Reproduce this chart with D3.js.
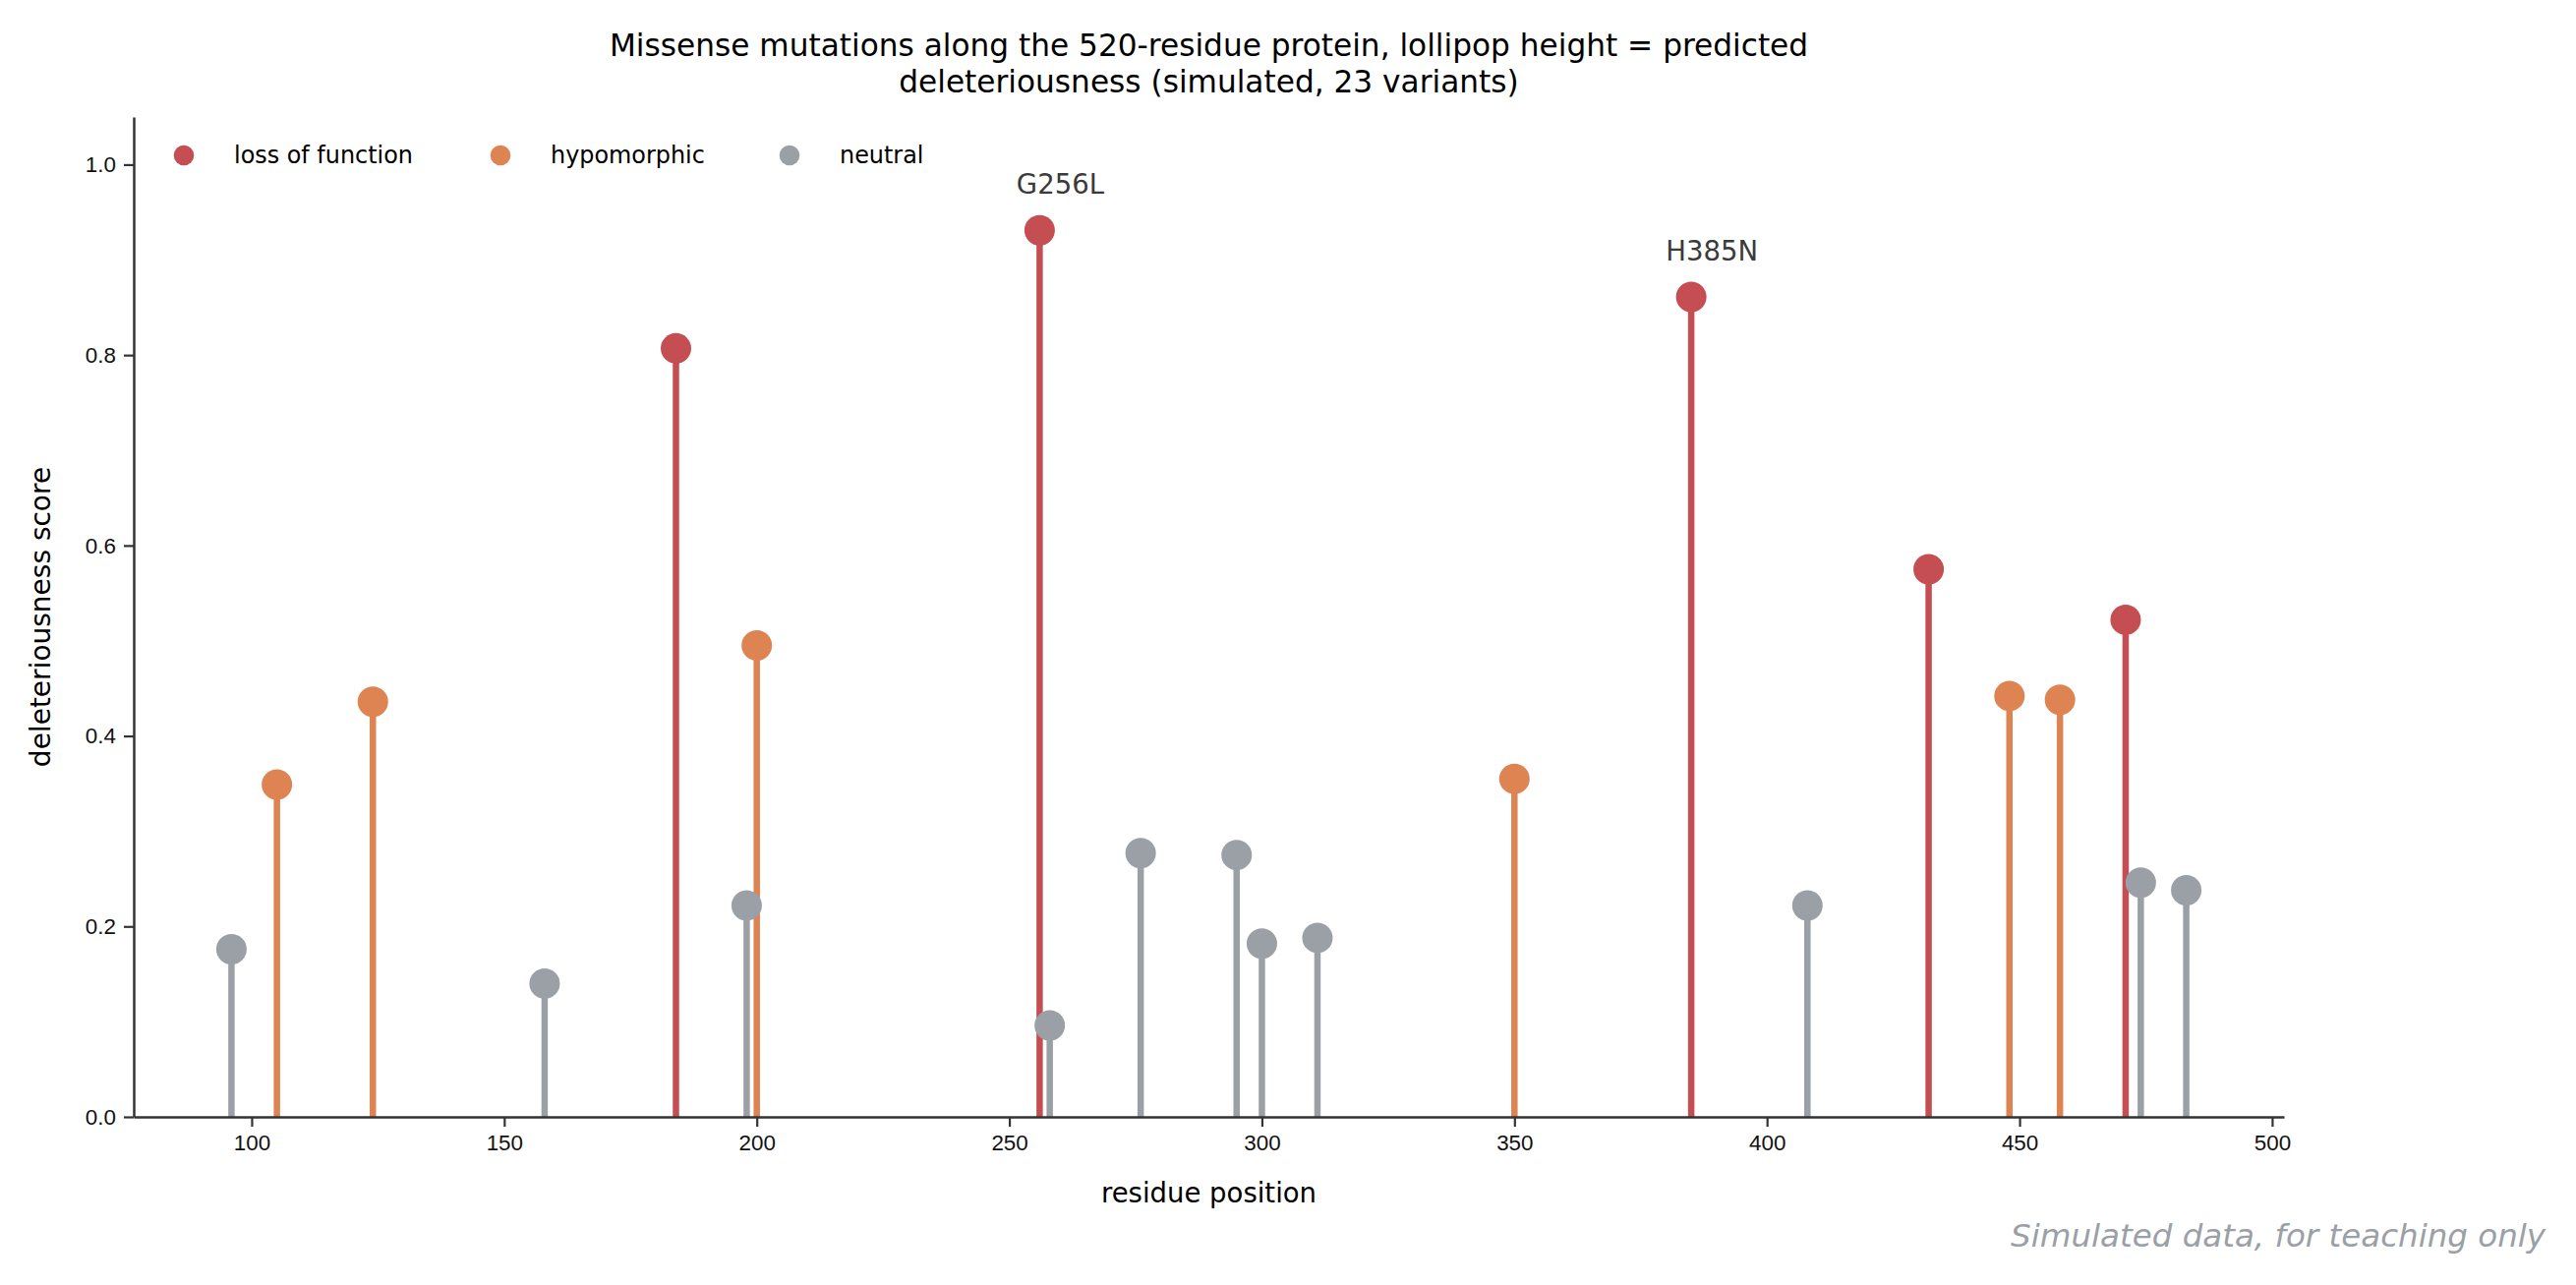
<!DOCTYPE html>
<html>
<head>
<meta charset="utf-8">
<script src="https://cdn.jsdelivr.net/npm/d3@7"></script>
<style>
	body { margin: 0; background: #fff; }
	svg { display: block; font-family: "DejaVu Sans", sans-serif; }
	.axis path, .axis line { stroke: #333; }
	.axis text { fill: #111; font-size: 22.4px; }
</style>
</head>
<body>
<svg id="chart"></svg>
<script>

// residue position of every visible variant
var positions = [96, 105, 124, 158, 184, 198, 200, 256, 258, 276, 295, 300, 311, 350, 385, 408, 432, 448, 458, 471, 474, 483];
// predicted deleteriousness score
var scores = [0.176, 0.349, 0.436, 0.140, 0.807, 0.222, 0.495, 0.931, 0.096, 0.277, 0.275, 0.182, 0.188, 0.355, 0.861, 0.222, 0.575, 0.442, 0.438, 0.522, 0.246, 0.238];
// impact class per variant
var impacts = ['neutral', 'hypomorphic', 'hypomorphic', 'neutral', 'loss of function', 'neutral', 'hypomorphic', 'loss of function', 'neutral', 'neutral', 'neutral', 'neutral', 'neutral', 'hypomorphic', 'loss of function', 'neutral', 'loss of function', 'hypomorphic', 'hypomorphic', 'loss of function', 'neutral', 'neutral'];

var classNames = ['loss of function', 'hypomorphic', 'neutral'];
var classColors = ['#c44e52', '#dd8452', '#9aa0a6'];

// annotated variants
var labelPositions = [256, 385];
var labelTexts = ['G256L', 'H385N'];

var xTicks = [100, 150, 200, 250, 300, 350, 400, 450, 500];
var yTicks = [0, 0.2, 0.4, 0.6, 0.8, 1.0];

window.app = window.app || {};

window.app.lollipop = (function() {

	'use strict';

	var svg,
		xScale,
		yScale,
		colorScale,
		settings = {
			width: 2620,
			height: 1307,
			plot: { left: 136, right: 2323, top: 119, bottom: 1136 },
			radius: 15.5,
			stemWidth: 6.5
		};


	/**
	* build the list of variants from the separate arrays
	* @returns {array}
	*/
	const getVariants = function() {
		return positions.map(function(pos, i) {
			return { pos: pos, score: scores[i], impact: impacts[i] };
		});
	};


	/**
	* create scales (x margin of 5% like the original figure)
	* @returns {undefined}
	*/
	const createScales = function() {
		let xMin = d3.min(positions),
			xMax = d3.max(positions),
			pad = (xMax - xMin) * 0.05;

		xScale = d3.scaleLinear()
			.domain([xMin - pad, xMax + pad])
			.range([settings.plot.left, settings.plot.right]);

		yScale = d3.scaleLinear()
			.domain([0, 1.05])
			.range([settings.plot.bottom, settings.plot.top]);

		colorScale = d3.scaleOrdinal()
			.domain(classNames)
			.range(classColors);
	};


	/**
	* draw the axes, left and bottom spines only
	* @returns {undefined}
	*/
	const createAxes = function() {
		let xAxis = d3.axisBottom(xScale)
				.tickValues(xTicks)
				.tickFormat(d3.format('d'))
				.tickSizeInner(10)
				.tickSizeOuter(0)
				.tickPadding(8),
			yAxis = d3.axisLeft(yScale)
				.tickValues(yTicks)
				.tickFormat(d3.format('.1f'))
				.tickSizeInner(10)
				.tickSizeOuter(0)
				.tickPadding(8);

		let gx = svg.append('g')
			.attr('class', 'axis axis--x')
			.attr('transform', 'translate(0,' + settings.plot.bottom + ')')
			.call(xAxis);
		gx.select('.domain').attr('stroke-width', 2.5);
		gx.selectAll('.tick line').attr('stroke-width', 2.2);

		let gy = svg.append('g')
			.attr('class', 'axis axis--y')
			.attr('transform', 'translate(' + settings.plot.left + ',0)')
			.call(yAxis);
		gy.select('.domain').attr('stroke-width', 2.5);
		gy.selectAll('.tick line').attr('stroke-width', 2.2);

		// axis titles
		svg.append('text')
			.attr('x', (settings.plot.left + settings.plot.right) / 2)
			.attr('y', 1223)
			.attr('text-anchor', 'middle')
			.style('font-size', '27.5px')
			.text('residue position');

		svg.append('text')
			.attr('transform', 'translate(51,' + ((settings.plot.top + settings.plot.bottom) / 2) + ') rotate(-90)')
			.attr('text-anchor', 'middle')
			.style('font-size', '28px')
			.text('deleteriousness score');
	};


	/**
	* stems first, then the heads on top
	* @returns {undefined}
	*/
	const addLollipops = function(variants) {
		svg.append('g')
			.selectAll('line')
			.data(variants)
			.enter()
			.append('line')
			.attr('x1', function(d) { return xScale(d.pos); })
			.attr('x2', function(d) { return xScale(d.pos); })
			.attr('y1', yScale(0))
			.attr('y2', function(d) { return yScale(d.score); })
			.attr('stroke', function(d) { return colorScale(d.impact); })
			.attr('stroke-width', settings.stemWidth);

		svg.append('g')
			.selectAll('circle')
			.data(variants)
			.enter()
			.append('circle')
			.attr('cx', function(d) { return xScale(d.pos); })
			.attr('cy', function(d) { return yScale(d.score); })
			.attr('r', settings.radius)
			.attr('fill', function(d) { return colorScale(d.impact); });
	};


	/**
	* label the two highest variants
	* @returns {undefined}
	*/
	const addLabels = function(variants) {
		let labelled = labelPositions.map(function(pos, i) {
			let v = variants.find(function(d) { return d.pos === pos; });
			return { pos: pos, score: v.score, text: labelTexts[i] };
		});

		svg.append('g')
			.selectAll('text')
			.data(labelled)
			.enter()
			.append('text')
			.attr('x', function(d) { return xScale(d.pos) + 21; })
			.attr('y', function(d) { return yScale(d.score) - 37; })
			.attr('text-anchor', 'middle')
			.attr('fill', '#3a3a3a')
			.style('font-size', '27.5px')
			.text(function(d) { return d.text; });
	};


	/**
	* legend in one row, top left inside the axes
	* @returns {undefined}
	*/
	const addLegend = function() {
		let offsets = [0, 322, 616];

		let item = svg.append('g')
			.attr('transform', 'translate(187,158)')
			.selectAll('.legend-item')
			.data(classNames)
			.enter()
			.append('g')
			.attr('class', 'legend-item')
			.attr('transform', function(d, i) { return 'translate(' + offsets[i] + ',0)'; });

		item.append('circle')
			.attr('r', 10.3)
			.attr('fill', function(d) { return colorScale(d); });

		item.append('text')
			.attr('x', 51)
			.attr('y', 8)
			.style('font-size', '23.9px')
			.text(function(d) { return d; });
	};


	/**
	* title and footnote
	* @returns {undefined}
	*/
	const addTexts = function() {
		let title = svg.append('text')
			.attr('text-anchor', 'middle')
			.style('font-size', '31.2px');

		title.append('tspan')
			.attr('x', (settings.plot.left + settings.plot.right) / 2)
			.attr('y', 57)
			.text('Missense mutations along the 520-residue protein, lollipop height = predicted');
		title.append('tspan')
			.attr('x', (settings.plot.left + settings.plot.right) / 2)
			.attr('y', 94)
			.text('deleteriousness (simulated, 23 variants)');

		svg.append('text')
			.attr('x', 2589)
			.attr('y', 1268)
			.attr('text-anchor', 'end')
			.attr('fill', '#9aa0a6')
			.style('font-size', '32.5px')
			.style('font-style', 'italic')
			.text('Simulated data, for teaching only');
	};


	/**
	* create the chart
	* @returns {undefined}
	*/
	const drawChart = function(chartSelector) {
		svg = d3.select(chartSelector)
			.attr('width', settings.width)
			.attr('height', settings.height);

		let variants = getVariants();

		createScales();
		addLollipops(variants);
		createAxes();
		addLabels(variants);
		addLegend();
		addTexts();
	};

	return {
		drawChart
	};

})();

window.app.lollipop.drawChart('#chart');
</script>
</body>
</html>
